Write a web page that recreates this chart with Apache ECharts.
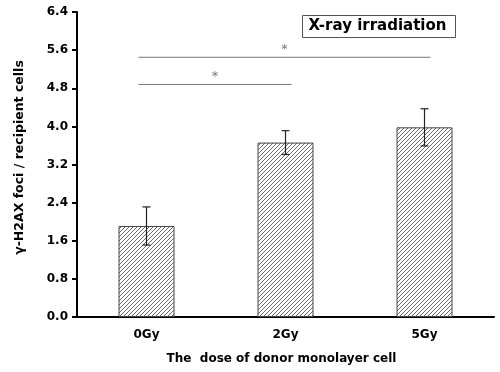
<!DOCTYPE html>
<html>
<head>
<meta charset="utf-8">
<script src="https://cdn.jsdelivr.net/npm/echarts@6/dist/echarts.min.js"></script>
<style>
  html, body { margin: 0; padding: 0; background: #fff; }
  #chart { width: 500px; height: 372px; }
</style>
</head>
<body>
<div id="chart"></div>
<script>
// data
const doses = ["0Gy", "2Gy", "5Gy"];
const foci = [1.91, 3.66, 3.98];
const sem = [0.40, 0.25, 0.39];
const yTicks = { min: 0, max: 6.4, step: 0.8 };
// significance brackets: [from category, to category, height]
const brackets = [
  [0, 2, 5.45],
  [0, 1, 4.88],
];

const font = '"DejaVu Sans", sans-serif';

// diagonal hatch tile for the bars
function hatch() {
  const c = document.createElement("canvas");
  c.width = 4;
  c.height = 4;
  const ctx = c.getContext("2d");
  ctx.fillStyle = "#fff";
  ctx.fillRect(0, 0, 4, 4);
  ctx.strokeStyle = "#6a6a6a";
  ctx.lineWidth = 1;
  ctx.beginPath();
  ctx.moveTo(-1, 5);
  ctx.lineTo(5, -1);
  ctx.moveTo(-1, 1);
  ctx.lineTo(1, -1);
  ctx.moveTo(3, 5);
  ctx.lineTo(5, 3);
  ctx.stroke();
  return c;
}

const chart = echarts.init(document.getElementById("chart"), null, { renderer: "canvas" });

chart.setOption({
  animation: false,
  backgroundColor: "#fff",
  textStyle: { fontFamily: font },
  grid: { left: 77, right: 6, top: 12, bottom: 55, outerBoundsMode: "none" },
  graphic: [
    {
      type: "group",
      left: 302,
      top: 15,
      children: [
        {
          type: "rect",
          shape: { x: 0, y: 0, width: 153, height: 22 },
          style: { fill: "#fff", stroke: "#555", lineWidth: 1 },
        },
        {
          type: "text",
          x: 6,
          y: 3,
          style: { text: "X-ray irradiation", font: "bold 15px " + font, fill: "#000" },
        },
      ],
    },
  ],
  xAxis: {
    type: "category",
    data: doses,
    name: "The  dose of donor monolayer cell",
    nameLocation: "middle",
    nameGap: 36,
    nameTextStyle: { fontWeight: "bold", fontSize: 12, color: "#000", padding: [0, 8, 0, 0] },
    axisLine: { lineStyle: { color: "#000", width: 2 } },
    axisTick: { alignWithLabel: true, length: 5, lineStyle: { color: "#000", width: 2 } },
    axisLabel: { fontWeight: "bold", fontSize: 12, color: "#000", margin: 12 },
  },
  yAxis: {
    type: "value",
    min: yTicks.min,
    max: yTicks.max,
    interval: yTicks.step,
    name: "γ-H2AX foci / recipient cells",
    nameLocation: "middle",
    nameGap: 51,
    nameTextStyle: { fontWeight: "bold", fontSize: 12.5, color: "#000", padding: [0, 0, 0, 14] },
    axisLine: { show: true, lineStyle: { color: "#000", width: 2 } },
    axisTick: { show: true, length: 5, lineStyle: { color: "#000", width: 2 } },
    axisLabel: {
      fontWeight: "bold",
      fontSize: 12,
      color: "#000",
      margin: 9,
      formatter: (v) => v.toFixed(1),
    },
    splitLine: { show: false },
  },
  series: [
    {
      type: "bar",
      data: foci,
      barWidth: 56,
      itemStyle: {
        color: { image: hatch(), repeat: "repeat" },
        borderColor: "#444",
        borderWidth: 1,
      },
      z: 2,
    },
    {
      // error bars
      type: "custom",
      data: foci.map((v, i) => [i, v - sem[i], v + sem[i]]),
      renderItem: (params, api) => {
        const lo = api.coord([api.value(0), api.value(1)]);
        const hi = api.coord([api.value(0), api.value(2)]);
        const s = { stroke: "#222", lineWidth: 1.2 };
        return {
          type: "group",
          children: [
            { type: "line", shape: { x1: lo[0], y1: lo[1], x2: hi[0], y2: hi[1] }, style: s },
            { type: "line", shape: { x1: lo[0] - 4, y1: lo[1], x2: lo[0] + 4, y2: lo[1] }, style: s },
            { type: "line", shape: { x1: hi[0] - 4, y1: hi[1], x2: hi[0] + 4, y2: hi[1] }, style: s },
          ],
        };
      },
      z: 5,
    },
    {
      // significance brackets
      type: "custom",
      data: brackets,
      renderItem: (params, api) => {
        const a = api.coord([api.value(0), api.value(2)]);
        const b = api.coord([api.value(1), api.value(2)]);
        const x1 = a[0] - 8;
        const x2 = b[0] + 6;
        return {
          type: "group",
          children: [
            { type: "line", shape: { x1: x1, y1: a[1], x2: x2, y2: a[1] }, style: { stroke: "#777", lineWidth: 1 } },
            {
              type: "text",
              x: (x1 + x2) / 2,
              y: a[1] - 8,
              style: { text: "*", font: "13px " + font, fill: "#777", align: "center", verticalAlign: "middle" },
            },
          ],
        };
      },
      z: 5,
    },
  ],
});
</script>
</body>
</html>
